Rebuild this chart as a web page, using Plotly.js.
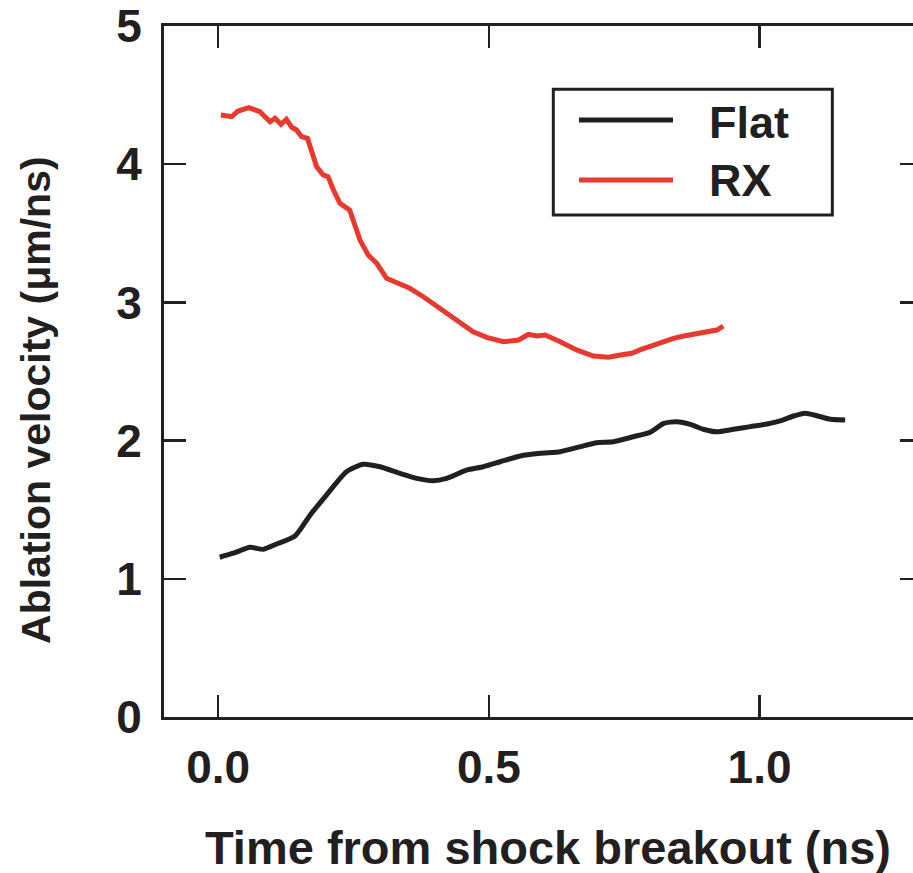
<!DOCTYPE html>
<html>
<head>
<meta charset="utf-8">
<script src="https://cdn.plot.ly/plotly-3.0.1.min.js"></script>
<style>
html,body{margin:0;padding:0;overflow:hidden;background:#fff;}
#chart{width:930px;height:873px;}
</style>
</head>
<body>
<div id="chart"></div>
<script>
// Flat series
const flatTime = [0.003,0.028,0.059,0.083,0.108,0.142,0.170,0.200,0.237,0.268,0.299,0.336,0.367,0.397,0.422,0.459,0.490,0.521,0.558,0.595,0.632,0.669,0.699,0.730,0.767,0.798,0.823,0.847,0.872,0.896,0.921,0.952,0.983,1.014,1.038,1.063,1.084,1.106,1.131,1.158];
const flatVel = [1.156,1.185,1.228,1.213,1.252,1.310,1.462,1.606,1.775,1.829,1.811,1.763,1.727,1.710,1.727,1.787,1.811,1.847,1.889,1.908,1.920,1.956,1.985,1.992,2.028,2.060,2.125,2.137,2.118,2.082,2.064,2.082,2.101,2.120,2.142,2.178,2.198,2.180,2.154,2.149];
// RX series
const rxTime = [0.005,0.025,0.037,0.057,0.077,0.096,0.105,0.116,0.126,0.136,0.145,0.154,0.165,0.173,0.182,0.194,0.203,0.213,0.225,0.243,0.253,0.262,0.277,0.293,0.311,0.330,0.354,0.379,0.410,0.441,0.471,0.496,0.527,0.555,0.573,0.589,0.604,0.632,0.662,0.693,0.721,0.743,0.764,0.779,0.801,0.823,0.841,0.860,0.878,0.894,0.909,0.921,0.933];
const rxVel = [4.356,4.344,4.385,4.409,4.380,4.307,4.332,4.289,4.325,4.267,4.248,4.199,4.187,4.079,3.982,3.922,3.910,3.813,3.717,3.668,3.548,3.451,3.343,3.283,3.174,3.138,3.102,3.041,2.957,2.873,2.788,2.747,2.716,2.728,2.769,2.757,2.764,2.716,2.656,2.612,2.603,2.619,2.632,2.656,2.685,2.723,2.740,2.757,2.771,2.781,2.788,2.800,2.829];
const seriesNames = ["Flat","RX"];
const xTickVals = [0,0.5,1.0];
const xTickText = ["0.0","0.5","1.0"];
const yTickVals = [0,1,2,3,4,5];
const yTickText = ["0","1","2","3","4","5"];

const BLACK = "#231F20", RED = "#E8392F";
const FONT = "Liberation Sans, Arial, sans-serif";

const traces = [
  {x: flatTime, y: flatVel, mode: "lines", name: seriesNames[0],
   line: {color: BLACK, width: 5, shape: "spline", smoothing: 0.6}},
  {x: rxTime, y: rxVel, mode: "lines", name: seriesNames[1],
   line: {color: RED, width: 5}}
];

const axisCommon = {
  showline: true, mirror: "ticks", linecolor: BLACK, linewidth: 3,
  ticks: "inside", ticklen: 22, tickwidth: 2.5, tickcolor: BLACK,
  showgrid: false, zeroline: false,
  tickfont: {family: FONT, size: 46, color: BLACK, weight: "bold"}
};

const layout = {
  width: 930, height: 873,
  margin: {l: 164, r: 8, t: 26, b: 156},
  paper_bgcolor: "#fff", plot_bgcolor: "#fff",
  showlegend: false,
  xaxis: Object.assign({}, axisCommon, {
    range: [-0.1, 1.3], tickmode: "array", tickvals: xTickVals, ticktext: xTickText,
    ticklabelstandoff: 8
  }),
  yaxis: Object.assign({}, axisCommon, {
    range: [0, 5], tickmode: "array", tickvals: yTickVals, ticktext: yTickText,
    ticklabelstandoff: 10
  }),
  shapes: [
    {type: "rect", xref: "paper", yref: "paper", x0: 0.5136, x1: 0.8817, y0: 0.7265, y1: 0.9084,
     line: {color: BLACK, width: 3}, fillcolor: "rgba(0,0,0,0)"},
    {type: "line", xref: "paper", yref: "paper", x0: 0.5475, x1: 0.6715, y0: 0.864, y1: 0.864,
     line: {color: BLACK, width: 5}},
    {type: "line", xref: "paper", yref: "paper", x0: 0.5475, x1: 0.6715, y0: 0.7771, y1: 0.7771,
     line: {color: RED, width: 5}}
  ],
  annotations: [
    {xref: "paper", yref: "paper", x: 0.717, y: 0.861, xanchor: "left", yanchor: "middle",
     text: seriesNames[0], showarrow: false, font: {family: FONT, size: 45, color: BLACK, weight: "bold"}},
    {xref: "paper", yref: "paper", x: 0.717, y: 0.7757, xanchor: "left", yanchor: "middle",
     text: seriesNames[1], showarrow: false, font: {family: FONT, size: 45, color: BLACK, weight: "bold"}},
    {xref: "paper", yref: "paper", x: 0.5066, y: -0.1895, xanchor: "center", yanchor: "middle",
     borderpad: 0,
     text: "Time from shock breakout (ns)", showarrow: false,
     font: {family: FONT, size: 47, color: BLACK, weight: "bold"}},
    {xref: "paper", yref: "paper", x: -0.1689, y: 0.4588, xanchor: "center", yanchor: "middle",
     textangle: -90, text: "Ablation velocity (μm/ns)", showarrow: false,
     font: {family: FONT, size: 41, color: BLACK, weight: "bold"}}
  ]
};

Plotly.newPlot("chart", traces, layout, {displayModeBar: false, staticPlot: true});
</script>
</body>
</html>
